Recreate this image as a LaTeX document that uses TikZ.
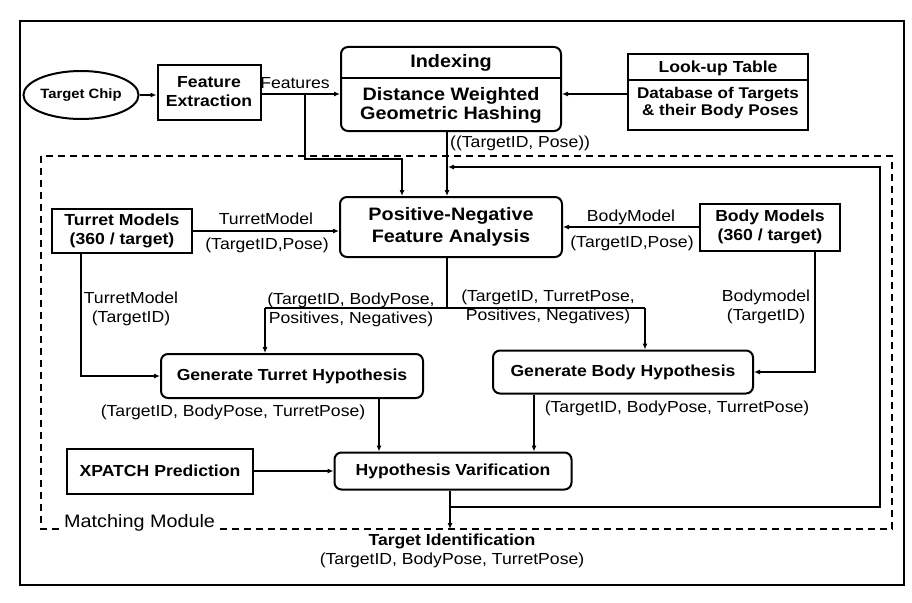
\documentclass[tikz,border=0pt]{standalone}
\usepackage{fontspec}
\setmainfont[FakeStretch=1.1]{Liberation Sans}
\usetikzlibrary{arrows.meta,shapes.geometric}
\begin{document}
\begin{tikzpicture}[x=1pt,y=-1pt,
  box/.style={draw, line width=2pt, inner sep=0pt, align=center, font=\bfseries\fontsize{16}{19}\selectfont},
  rbox/.style={box, rounded corners=7pt},
  big/.style={font=\bfseries\fontsize{18}{20}\selectfont},
  txt/.style={inner sep=0pt, align=center, font=\fontsize{16}{19}\selectfont},
  btxt/.style={inner sep=0pt, align=center, font=\bfseries\fontsize{16}{19}\selectfont},
  conn/.style={line width=1.1pt},
  arr/.style={conn, -{Latex[length=6pt,width=5pt]}},
  frame/.style={line width=1.5pt},
  module/.style={line width=1.5pt, dash pattern=on 7pt off 5pt},
]
\useasboundingbox (0,0) rectangle (912,602);
\draw[frame] (20,21) rectangle (904,585);
% matching module
\draw[module] (41,156) rectangle (892,529);
\node[txt, anchor=base west, fill=white, inner sep=2pt, font=\fontsize{18}{20}\selectfont] (mm) at (62,527) {Matching Module};

% nodes
\node[draw, ellipse, line width=2pt, minimum width=101pt, minimum height=48pt, inner sep=0pt, font=\bfseries\fontsize{13.5}{16}\selectfont] (tc) at (81,95) {Target Chip};
\node[box, minimum width=103pt, minimum height=55pt] (fe) at (209,92) {Feature\\Extraction};

\node[rbox, minimum width=220pt, minimum height=84pt] (idx) at (451,89) {};
\draw[line width=2pt] ([yshift=-32pt]idx.north west) -- ([yshift=-32pt]idx.north east);
\node[btxt, big] (idxt) at (451,63) {Indexing};
\node[btxt, big, font=\bfseries\fontsize{18}{19}\selectfont] (idxb) at (451,105) {Distance Weighted\\Geometric Hashing};

\node[box, minimum width=180pt, minimum height=75pt] (lut) at (718,92) {};
\draw[line width=2pt] ([yshift=-26pt]lut.north west) -- ([yshift=-26pt]lut.north east);
\node[btxt] (lutt) at (718,68) {Look-up Table};
\node[btxt, font=\bfseries\fontsize{15.5}{17}\selectfont] (lutb) at (718,103) {Database of Targets\\\ \& their Body Poses};

\node[rbox, minimum width=222pt, minimum height=60pt, font=\bfseries\fontsize{18}{22}\selectfont] (pnfa) at (451,227) {Positive-Negative\\Feature Analysis};
\node[box, minimum width=140pt, minimum height=44pt] (tm) at (122,231) {Turret Models\\(360 / target)};
\node[box, minimum width=140pt, minimum height=47pt] (bm) at (770,227) {Body Models\\(360 / target)};

\node[rbox, minimum width=262pt, minimum height=44pt] (gth) at (292,376) {Generate Turret Hypothesis};
\node[rbox, minimum width=260pt, minimum height=43pt] (gbh) at (623,372) {Generate Body Hypothesis};
\node[rbox, minimum width=237pt, minimum height=37pt] (hv) at (453,471) {Hypothesis Varification};
\node[box, minimum width=186pt, minimum height=45pt] (xp) at (160,471) {XPATCH Prediction};

\node[txt] (ti) at (452,551) {\textbf{Target Identification}\\(TargetID, BodyPose, TurretPose)};

% connectors
\coordinate (fy) at (0,94);
\draw[arr] (tc.east) -- (tc.east -| fe.west);
\draw[arr] (fe.east |- fy) -- (idx.west |- fy);
\node[txt] (featl) at (295,83) {Features};
\coordinate (fb) at (305,94);
\coordinate (fk) at (402,159);
\draw[arr] (fb) |- (fk) -- (fk |- pnfa.north);
\draw[arr] (lut.west |- fy) -- (idx.east |- fy);

\coordinate (ix) at (447,0);
\draw[arr] (idx.south -| ix) -- (pnfa.north -| ix);
\node[txt, anchor=west] (tpl) at (450,143) {((TargetID, Pose))};

\draw[arr] (tm.east) -- (tm.east -| pnfa.west);
\node[txt] (tml) at (266,219) {TurretModel};
\node[txt] (tmp) at (267,245) {(TargetID,Pose)};
\draw[arr] (bm.west) -- (bm.west -| pnfa.east);
\node[txt] (bml) at (631,217) {BodyModel};
\node[txt] (bmp) at (632,243) {(TargetID,Pose)};

\coordinate (tmx) at (81,0);
\draw[arr] (tm.south -| tmx) |- (gth.west);
\node[txt] (tml2) at (131,309) {TurretModel\\(TargetID)};
\coordinate (bmx) at (815,0);
\draw[arr] (bm.south -| bmx) |- (gbh.east);
\node[txt] (bml2) at (766,307) {Bodymodel\\(TargetID)};

\coordinate (sp) at (447,308);
\coordinate (spl) at (265,308);
\coordinate (spr) at (645,308);
\draw[conn] (pnfa.south -| sp) -- (sp);
\draw[conn] (spl) -- (spr);
\draw[arr] (spl) -- (spl |- gth.north);
\draw[arr] (spr) -- (spr |- gbh.north);
\node[txt] (spll) at (351,310) {(TargetID, BodyPose,\\Positives, Negatives)};
\node[txt] (sprl) at (548,307) {(TargetID, TurretPose,\\Positives, Negatives)};

\coordinate (gx) at (379,0);
\draw[arr] (gth.south -| gx) -- (hv.north -| gx);
\node[txt] (gtl) at (233,412) {(TargetID, BodyPose, TurretPose)};
\coordinate (bx) at (534,0);
\draw[arr] (gbh.south -| bx) -- (hv.north -| bx);
\node[txt] (gbl) at (677,408) {(TargetID, BodyPose, TurretPose)};

\draw[arr] (xp.east) -- (xp.east -| hv.west);

\coordinate (ox) at (450,0);
\coordinate (oend) at (450,529);
\draw[arr] (hv.south -| ox) -- (oend);
\coordinate (fbj) at (450,507);
\coordinate (fbr) at (880,507);
\coordinate (fbt) at (880,167);
\coordinate (fbe) at (448,167);
\draw[arr] (fbj) -- (fbr) -- (fbt) -- (fbe);
\end{tikzpicture}
\end{document}
